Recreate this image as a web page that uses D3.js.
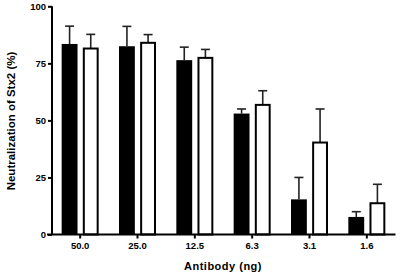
<!DOCTYPE html>
<html>
<head>
<meta charset="utf-8">
<script src="https://cdn.jsdelivr.net/npm/d3@7/dist/d3.min.js"></script>
<style>
html,body{margin:0;padding:0;background:#fff;}
svg{display:block;font-family:"Liberation Sans",Arial,sans-serif;}
</style>
</head>
<body>
<script>
const categories = ["50.0","25.0","12.5","6.3","3.1","1.6"];
const series = ["A","B"];
const meanA = [83.5, 82.5, 76.4, 53.0, 15.4, 7.7];
const errA  = [91.3, 91.2, 82.1, 55.0, 25.0, 10.0];
const meanB = [81.5, 84.0, 77.4, 56.8, 40.3, 13.7];
const errB  = [87.7, 87.6, 81.1, 63.0, 55.0, 22.0];
const yTicks = [0, 25, 50, 75, 100];

const W = 400, H = 274;
const svg = d3.select("body").append("svg").attr("width", W).attr("height", H);

const x = d3.scaleBand().domain(categories).range([51.5, 395.5]).padding(0);
const x1 = d3.scaleBand().domain(series).range([-18.5, 18.5]).paddingInner(0.25);
const y = d3.scaleLinear().domain([0, 100]).range([234.5, 6.3]);

const data = [];
categories.forEach((c, i) => {
  data.push({c, s: "A", v: meanA[i], e: errA[i]});
  data.push({c, s: "B", v: meanB[i], e: errB[i]});
});

// error bars
const eg = svg.append("g").attr("stroke", "#222").attr("stroke-width", 1.6);
data.forEach(d => {
  const cx = x(d.c) + x.bandwidth()/2 + x1(d.s) + x1.bandwidth()/2;
  eg.append("line").attr("x1", cx).attr("x2", cx).attr("y1", y(d.v)).attr("y2", y(d.e));
  eg.append("line").attr("x1", cx - 4.5).attr("x2", cx + 4.5).attr("y1", y(d.e)).attr("y2", y(d.e));
});

// bars
data.forEach(d => {
  const bx = x(d.c) + x.bandwidth()/2 + x1(d.s);
  if (d.s === "A") {
    svg.append("rect").attr("x", bx).attr("y", y(d.v)).attr("width", x1.bandwidth())
      .attr("height", y(0) - y(d.v)).attr("fill", "#000");
  } else {
    svg.append("rect").attr("x", bx + 1).attr("y", y(d.v)).attr("width", x1.bandwidth() - 2)
      .attr("height", y(0) - y(d.v)).attr("fill", "#fff").attr("stroke", "#000").attr("stroke-width", 2);
  }
});

// y axis
const yAxis = svg.append("g").attr("transform", "translate(52,0)")
  .call(d3.axisLeft(y).tickValues(yTicks).tickSize(4).tickPadding(2).tickFormat(d3.format("d")));
yAxis.select(".domain").attr("stroke", "#000").attr("stroke-width", 2).attr("d", `M0,${y(100)}V${y(0)}`);
yAxis.selectAll(".tick line").attr("stroke", "#000").attr("stroke-width", 2);
yAxis.selectAll("text").attr("font-size", 9.5).attr("font-weight", "bold").attr("fill", "#000")
  .attr("font-family", "Liberation Sans, Arial, sans-serif");

// x axis
const xAxis = svg.append("g").attr("transform", `translate(0,${y(0)})`)
  .call(d3.axisBottom(x).tickSize(4).tickPadding(4));
xAxis.select(".domain").attr("stroke", "#000").attr("stroke-width", 2).attr("d", `M47,0H395.5`);
xAxis.selectAll(".tick line").attr("stroke", "#000").attr("stroke-width", 2);
xAxis.selectAll("text").attr("font-size", 9.5).attr("font-weight", "bold").attr("fill", "#000")
  .attr("font-family", "Liberation Sans, Arial, sans-serif");

// axis titles
svg.append("text").attr("x", 223).attr("y", 270).attr("text-anchor", "middle")
  .attr("font-size", 11).attr("font-weight", "bold").attr("letter-spacing", 0.5).text("Antibody (ng)");
svg.append("text").attr("transform", "translate(15,121) rotate(-90)").attr("text-anchor", "middle")
  .attr("font-size", 11.5).attr("font-weight", "bold").text("Neutralization of Stx2 (%)");
</script>
</body>
</html>
